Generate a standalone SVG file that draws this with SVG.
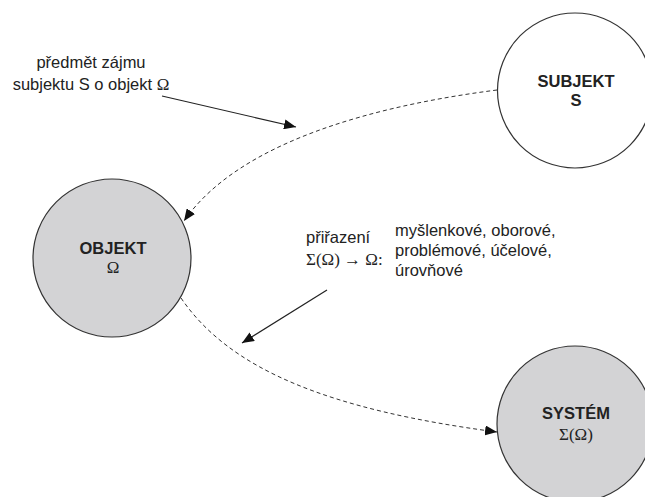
<svg xmlns="http://www.w3.org/2000/svg" width="645" height="497" viewBox="0 0 645 497">
  <style>
    .node { stroke: #333; stroke-width: 1.2; }
    .light { fill: #ffffff; }
    .grey { fill: #d3d3d5; }
    .title { font-family: "Liberation Sans", Arial, sans-serif; font-weight: bold; font-size: 16.5px; fill: #222; text-anchor: middle; }
    .sym { font-family: "Liberation Serif", "Times New Roman", serif; font-size: 17px; fill: #222; }
    .lbl { font-family: "Liberation Sans", Arial, sans-serif; font-size: 16.5px; fill: #222; }
    .dash { fill: none; stroke: #333; stroke-width: 1; stroke-dasharray: 4 3; }
    .solid { fill: none; stroke: #222; stroke-width: 1.2; }
  </style>
  <defs>
    <marker id="head" markerUnits="userSpaceOnUse" markerWidth="14" markerHeight="10" refX="12" refY="5" orient="auto">
      <path d="M0,0 L12,5 L0,10 Z" fill="#111"/>
    </marker>
  </defs>

  <g id="subjekt">
    <circle class="node light" cx="575" cy="90.5" r="77.5"/>
    <text class="title" x="576" y="87">SUBJEKT</text>
    <text class="title" x="576" y="106">S</text>
  </g>

  <g id="objekt">
    <circle class="node grey" cx="112" cy="258" r="79"/>
    <text class="title" x="113" y="254">OBJEKT</text>
    <text class="sym" x="113" y="273" text-anchor="middle">Ω</text>
  </g>

  <g id="system">
    <circle class="node grey" cx="575" cy="424" r="78"/>
    <text class="title" x="576" y="419">SYSTÉM</text>
    <text class="sym" x="576" y="440" text-anchor="middle">Σ(Ω)</text>
  </g>

  <g id="labels">
    <text class="lbl" x="91" y="68" text-anchor="middle">předmět zájmu</text>
    <text class="lbl" x="91" y="90" text-anchor="middle">subjektu S o objekt <tspan class="sym">Ω</tspan></text>
    <text class="lbl" x="306" y="243">přiřazení</text>
    <text class="sym" x="306" y="265">Σ(Ω) → Ω:</text>
    <text class="lbl" x="395" y="236">myšlenkové, oborové,</text>
    <text class="lbl" x="395" y="256">problémové, účelové,</text>
    <text class="lbl" x="395" y="276">úrovňové</text>
  </g>

  <g id="connectors">
    <path class="dash" d="M497,90 C380,105 240,140 184,221" marker-end="url(#head)"/>
    <path class="dash" d="M181,298 C230,370 330,410 497,432" marker-end="url(#head)"/>
    <path class="solid" d="M162,96 L296,127" marker-end="url(#head)"/>
    <path class="solid" d="M327,290 L242,343" marker-end="url(#head)"/>
  </g>
</svg>
